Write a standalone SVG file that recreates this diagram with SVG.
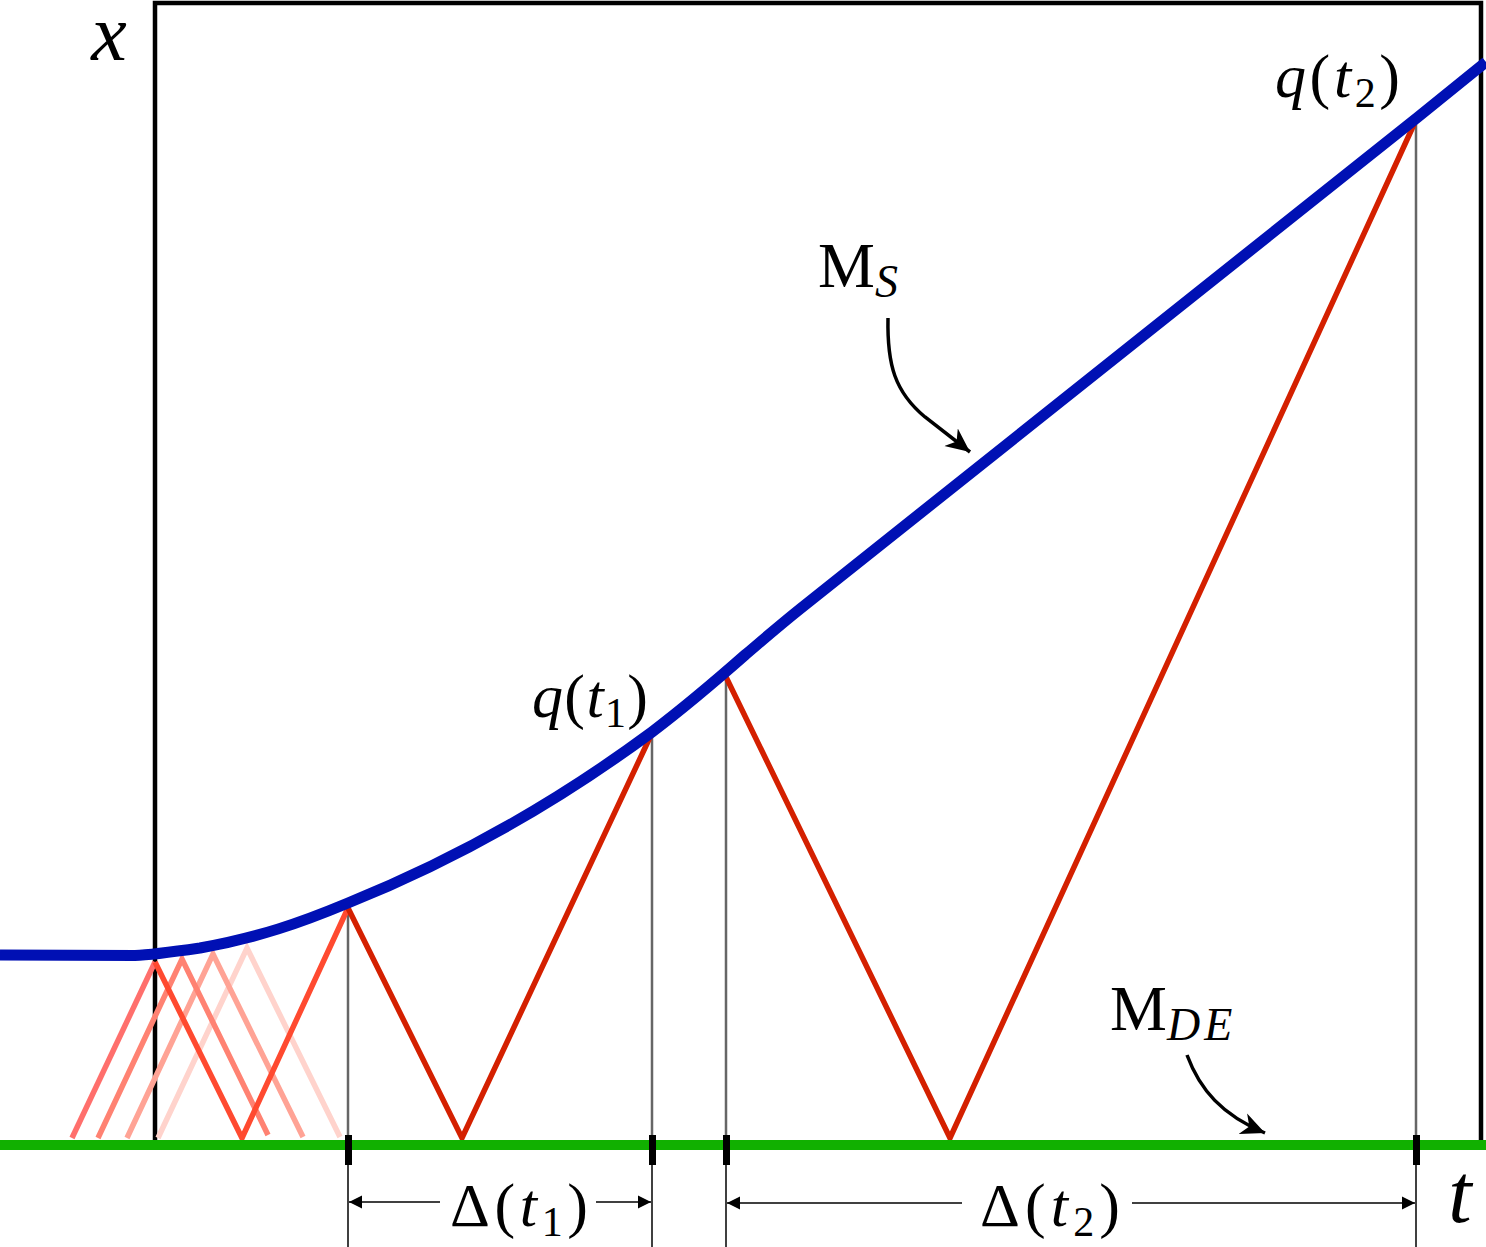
<svg xmlns="http://www.w3.org/2000/svg" width="1486" height="1247" viewBox="0 0 1486 1247">
<defs>
<style>
.frame{fill:none;stroke:#000;stroke-width:4.5}
.guide{stroke:#666;stroke-width:2.5}
.guideb{stroke:#000;stroke-width:1.5}
.ray{fill:none;stroke-width:5.5;stroke-linejoin:miter;stroke-linecap:butt}
.dim{stroke:#000;stroke-width:1.6;fill:none}
.curv{stroke:#000;stroke-width:3.5;fill:none}
.it{font-style:italic}
</style>
<marker id="big" viewBox="-24 -12 26 24" refX="0" refY="0" markerWidth="26" markerHeight="24" orient="auto" markerUnits="userSpaceOnUse">
<path d="M0,0 L-24,-11 L-17,0 L-24,11 Z" fill="#000"/>
</marker>
<marker id="small" viewBox="-14 -7 15 14" refX="0" refY="0" markerWidth="15" markerHeight="14" orient="auto" markerUnits="userSpaceOnUse">
<path d="M0,0 L-13,-6.5 L-13,6.5 Z" fill="#000"/>
</marker>
</defs>

<g id="frame">
<polyline class="frame" points="155,1145 155,3 1481,3 1481,1145"/>
</g>

<g id="guides">
<line class="guide" x1="348" y1="908" x2="348" y2="1150"/>
<line class="guide" x1="652" y1="733" x2="652" y2="1150"/>
<line class="guide" x1="726" y1="677" x2="726" y2="1150"/>
<line class="guide" x1="1416" y1="120" x2="1416" y2="1150"/>
<line class="guideb" x1="348" y1="1150" x2="348" y2="1247"/>
<line class="guideb" x1="652" y1="1150" x2="652" y2="1247"/>
<line class="guideb" x1="726" y1="1150" x2="726" y2="1247"/>
<line class="guideb" x1="1416" y1="1150" x2="1416" y2="1247"/>
</g>

<g id="ghost-rays">
<polyline class="ray" stroke="#ffd3cc" points="158,1138 247,948 340,1137"/>
<polyline class="ray" stroke="#ffa395" points="127,1138 213,954 303,1137"/>
<polyline class="ray" stroke="#ff8272" points="98,1138 182,959 268,1135"/>
<polyline class="ray" stroke="#ff6f6c" points="72,1138 155,962"/>
<polyline class="ray" stroke="#ff4a30" points="155,962 242,1138 348,908"/>
</g>

<g id="rays">
<polyline class="ray" stroke="#d42000" points="348,908 462,1138 652,733"/>
<polyline class="ray" stroke="#d42000" points="726,677 950,1138 1416,120"/>
</g>

<g id="M_DE-line">
<line x1="0" y1="1145" x2="1486" y2="1145" stroke="#11b000" stroke-width="10"/>
</g>

<g id="M_S-curve">
<path d="M0,955 L135,955.5 C150,955 165,953 200,948 C260,937 300,923 348,903 C460,858 560,800 652,732 C690,703 720,677 745,655 C765,638 780,625 800,609 L1418,117 L1486,62" fill="none" stroke="#0010b4" stroke-width="11" stroke-linejoin="round"/>
</g>

<g id="ticks">
<rect x="345" y="1135" width="7" height="30" fill="#000"/>
<rect x="649" y="1135" width="7" height="30" fill="#000"/>
<rect x="723" y="1135" width="7" height="30" fill="#000"/>
<rect x="1413" y="1135" width="7" height="30" fill="#000"/>
</g>

<g id="connectors">
<path class="curv" d="M888,318 C887,365 895,392 925,417 L970,452" marker-end="url(#big)"/>
<path class="curv" d="M1187,1055 C1200,1090 1222,1115 1265,1133" marker-end="url(#big)"/>
<line class="dim" x1="440" y1="1202" x2="349" y2="1202" marker-end="url(#small)"/>
<line class="dim" x1="596" y1="1202" x2="651" y2="1202" marker-end="url(#small)"/>
<line class="dim" x1="962" y1="1203" x2="727" y2="1203" marker-end="url(#small)"/>
<line class="dim" x1="1132" y1="1203" x2="1415" y2="1203" marker-end="url(#small)"/>
</g>

<g id="labels" font-family="Liberation Serif, serif" fill="#000">
<text class="it" x="109" y="60" font-size="80" text-anchor="middle">x</text>
<text class="it" x="1460" y="1222" font-size="84" text-anchor="middle">t</text>
<text x="1275" y="97" font-size="62" textLength="125" lengthAdjust="spacing"><tspan class="it">q</tspan>(<tspan class="it">t</tspan><tspan font-size="42" dy="10">2</tspan><tspan dy="-10">)</tspan></text>
<text x="532" y="717" font-size="62" textLength="116" lengthAdjust="spacing"><tspan class="it">q</tspan>(<tspan class="it">t</tspan><tspan font-size="42" dy="10">1</tspan><tspan dy="-10">)</tspan></text>
<text x="450" y="1226" font-size="62" textLength="138" lengthAdjust="spacing">Δ(<tspan class="it">t</tspan><tspan font-size="42" dy="10">1</tspan><tspan dy="-10">)</tspan></text>
<text x="980" y="1226" font-size="62" textLength="140" lengthAdjust="spacing">Δ(<tspan class="it">t</tspan><tspan font-size="42" dy="10">2</tspan><tspan dy="-10">)</tspan></text>
<text x="818" y="287" font-size="64">M<tspan class="it" font-size="46" dy="10">S</tspan></text>
<text x="1110" y="1030" font-size="64">M<tspan class="it" font-size="46" dy="10" letter-spacing="4">DE</tspan></text>
</g>
</svg>
